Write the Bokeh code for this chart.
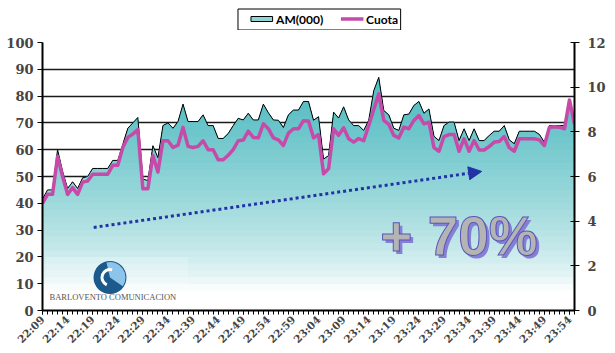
import math
import numpy as np
from bokeh.plotting import figure
from bokeh.layouts import column
from bokeh.models import (Range1d, LinearAxis, FixedTicker, Arrow, NormalHead)
from bokeh.core.properties import value
from bokeh.embed import file_html
from bokeh.resources import INLINE

# ---------------- data (one point per minute, 22:09 -> 23:55) ----------------
am = [41.5, 45, 45, 60, 52, 45.5, 48, 45.5, 49.5, 50, 53, 53, 53, 53, 56, 56, 62, 68, 70, 72,
      49, 48.5, 61.5, 57, 69, 70, 68, 70.5, 77, 70.5, 70.5, 70.5, 73, 69, 69, 64.2, 64.2, 66,
      69, 71.7, 71.1, 73.6, 71.1, 71.1, 77, 73.8, 71.1, 71, 68.3, 73, 74.8, 74.8, 78, 78, 71,
      72.3, 56.5, 57.8, 74, 71.8, 76, 71.1, 69, 69, 67.2, 71, 82, 87, 74.6, 73, 68, 67.2, 73,
      73.3, 76.5, 78, 73.6, 75.2, 65, 63.4, 69, 70.3, 70.3, 63.4, 67.8, 63.4, 67.8, 63.4, 63.4,
      65.3, 66.9, 66.9, 69, 63.7, 62.2, 66.9, 66.9, 66.9, 66.9, 65.7, 62.8, 69, 69, 69, 69, 78, 70]

cuota = [4.8, 5.2, 5.2, 6.9, 6.0, 5.2, 5.5, 5.2, 5.75, 5.8, 6.1, 6.1, 6.1, 6.1, 6.5, 6.5, 7.3, 7.75,
         7.9, 8.1, 5.45, 5.45, 6.94, 6.2, 7.6, 7.6, 7.3, 7.4, 8.2, 7.35, 7.3, 7.35, 7.6, 7.2, 7.2,
         6.75, 6.75, 6.95, 7.2, 7.6, 7.63, 8.03, 7.75, 7.73, 8.36, 8.14, 7.73, 7.64, 7.39, 7.94,
         8.14, 8.14, 8.5, 8.49, 7.73, 7.88, 6.12, 6.35, 8.14, 7.84, 8.18, 7.69, 7.54, 7.7, 7.6,
         8.28, 9.0, 9.7, 8.51, 8.33, 7.84, 7.73, 8.21, 8.14, 8.51, 8.73, 8.36, 8.43, 7.29, 7.13,
         7.79, 7.88, 7.88, 7.13, 7.69, 7.13, 7.61, 7.19, 7.19, 7.34, 7.54, 7.57, 7.79, 7.29, 7.13,
         7.69, 7.69, 7.69, 7.69, 7.64, 7.39, 8.21, 8.23, 8.21, 8.14, 9.43, 8.36]

tick_labels = ["22:09", "22:14", "22:19", "22:24", "22:29", "22:34", "22:39", "22:44",
               "22:49", "22:54", "22:59", "23:04", "23:09", "23:14", "23:19", "23:24",
               "23:29", "23:34", "23:39", "23:44", "23:49", "23:54"]
left_ticks = [0, 10, 20, 30, 40, 50, 60, 70, 80, 90, 100]
right_ticks = [0, 2, 4, 6, 8, 10, 12]
series_names = ["AM(000)", "Cuota"]
growth_text = "+ 70%"
logo_text = "BARLOVENTO COMUNICACION"

TEAL = "#8fd4d6"
PINK = "#c64ba9"

# ---------------- legend strip (drawn in pixel coordinates) ----------------
lg = figure(width=615, height=30, output_backend="svg", toolbar_location=None,
            x_range=Range1d(0, 615), y_range=Range1d(30, 0),
            x_axis_location=None, y_axis_location=None,
            min_border_left=0, min_border_right=0, min_border_top=0, min_border_bottom=0)
lg.outline_line_color = None
lg.xgrid.visible = False
lg.ygrid.visible = False
lg.quad(left=[226], right=[414], top=[8.5], bottom=[29.5], fill_color="white",
        line_color="black", line_width=1)
lg.quad(left=[241], right=[266], top=[16], bottom=[21], fill_color=TEAL,
        line_color="black", line_width=1)
lg.text(x=[270], y=[18.8], text=[series_names[0]], text_font=value("Lato"),
        text_font_style="bold", text_font_size="12px", text_baseline="middle",
        text_align="left", text_color="black")
lg.line(x=[345, 371], y=[18.5, 18.5], line_color=PINK, line_width=3.5)
lg.text(x=[374], y=[18.8], text=[series_names[1]], text_font=value("Lato"),
        text_font_style="bold", text_font_size="12px", text_baseline="middle",
        text_align="left", text_color="black")

# ---------------- main figure ----------------
xs = np.arange(len(am))
am_arr = np.array(am, dtype=float)

p = figure(width=615, height=323, output_backend="svg", toolbar_location=None,
           x_range=Range1d(0, len(am) - 1), y_range=Range1d(0, 100),
           min_border_left=42, min_border_right=41, min_border_top=12, min_border_bottom=43)
p.extra_y_ranges = {"cuota": Range1d(0, 12)}
p.outline_line_color = None
p.background_fill_color = "white"
p.border_fill_color = "white"

# gradient filled area (painter's bands from top to bottom)
top_rgb = np.array([90, 191, 196])
nb = 40
for k in range(nb):
    hi = 100 - k * (100 / nb)
    vmid = hi - 100 / nb / 2
    t = min(max((vmid - 8) / 70.0, 0.0), 1.0) ** 0.7
    c = (255 - (255 - top_rgb) * t).astype(int)
    col = "#%02x%02x%02x" % tuple(c)
    p.varea(x=xs, y1=0, y2=np.minimum(am_arr, hi), fill_color=col)

# logo
p.quad(left=[0.6], right=[29], bottom=[2.2], top=[20], fill_color="white", fill_alpha=0.2,
       line_color=None)
p.scatter(x=[13.45], y=[12.3], size=33, marker="circle", fill_color="#1d5a8c", line_color=None)
p.wedge(x=[13.45], y=[12.3], radius=15.5, radius_units="screen", start_angle=-0.6, end_angle=1.8,
        fill_color="#8cc4ea", line_color=None)
p.arc(x=[13.45], y=[12.3], radius=8, radius_units="screen", start_angle=1.3, end_angle=4.3,
      line_color="white", line_width=3)
p.text(x=[1.4], y=[3.0], text=[logo_text], text_font=value("Liberation Serif"),
       text_font_size="8.5px", text_color="#555555", text_baseline="bottom", text_align="left")

am_line = p.line(xs, am, line_color="black", line_width=1)
cuota_line = p.line(xs, cuota, y_range_name="cuota", line_color=PINK, line_width=3.5,
                    line_join="round")

# trend arrow
blue = "#2233a6"
p.add_layout(Arrow(end=NormalHead(size=13, fill_color=blue, line_color=blue),
                   x_start=10.2, y_start=31, x_end=87.5, y_end=51.9,
                   line_color=blue, line_width=3, line_dash="3 3"))

# "+ 70%" text with shadow
p.text(x=[67.3], y=[27.7], text=[growth_text], x_offset=3, y_offset=3,
       text_font=value("Liberation Sans"), text_font_style="bold",
       text_font_size="55px", text_color="#8580d6", text_align="left",
       text_baseline="alphabetic")
p.text(x=[67.3], y=[27.7], text=[growth_text],
       text_font=value("Liberation Sans"), text_font_style="bold",
       text_font_size="55px", text_color="#b4b4b4", text_outline_color="#5b55b8",
       text_align="left", text_baseline="alphabetic")

# axes
lax = p.yaxis[0]
lax.ticker = FixedTicker(ticks=left_ticks)
lax.axis_line_width = 2
lax.major_tick_out = 5
lax.major_tick_in = 0
lax.minor_tick_line_color = None
lax.major_label_text_font = "DejaVu Serif"
lax.major_label_text_font_style = "bold"
lax.major_label_text_font_size = "13px"
lax.major_label_standoff = 4

rax = LinearAxis(y_range_name="cuota", ticker=FixedTicker(ticks=right_ticks))
rax.axis_line_width = 2
rax.major_tick_out = 5
rax.major_tick_in = 4
rax.minor_tick_line_color = None
rax.major_label_text_font = "DejaVu Serif"
rax.major_label_text_font_style = "bold"
rax.major_label_text_font_size = "13px"
rax.major_label_standoff = 8
p.add_layout(rax, "right")

major_pos = [5 * k for k in range(len(tick_labels))]
xax = p.xaxis[0]
xax.ticker = FixedTicker(ticks=major_pos, minor_ticks=list(range(len(am))))
xax.major_label_overrides = {pos: lab for pos, lab in zip(major_pos, tick_labels)}
xax.major_label_orientation = math.pi / 4
xax.axis_line_width = 2
xax.major_tick_out = 4
xax.major_tick_in = 0
xax.minor_tick_out = 4
xax.minor_tick_in = 0
xax.major_label_text_font = "DejaVu Serif"
xax.major_label_text_font_style = "bold"
xax.major_label_text_font_size = "10.5px"
xax.major_label_standoff = 3

p.xgrid.visible = False
p.ygrid.ticker = FixedTicker(ticks=left_ticks)
p.ygrid.grid_line_color = "#1a1a1a"
p.ygrid.grid_line_width = 1.3

layout = column(lg, p, spacing=0)
open("out.html", "w").write(file_html(layout, INLINE))
